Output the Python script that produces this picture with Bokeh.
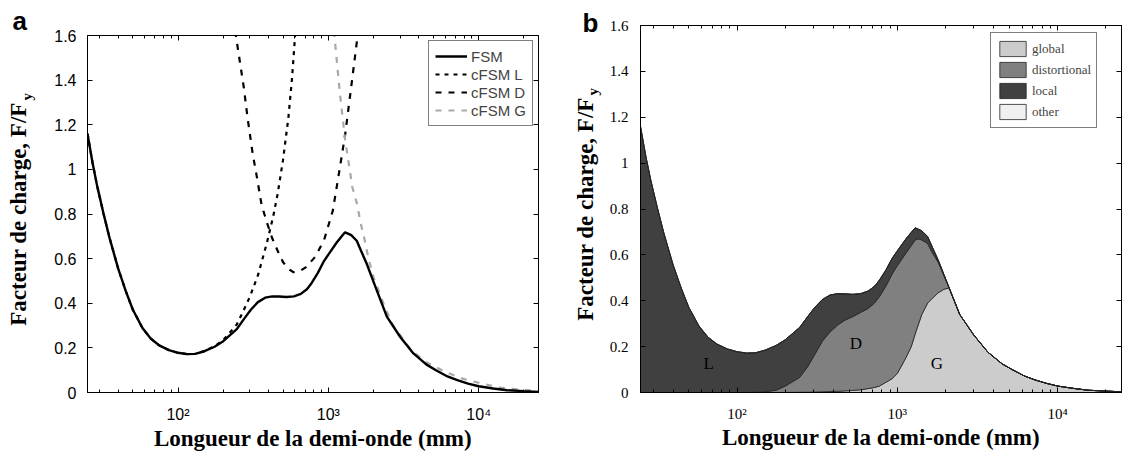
from bokeh.plotting import figure
from bokeh.layouts import row
from bokeh.models import (FixedTicker, LogAxis, LinearAxis, Legend, LegendItem,
                          Label, Title, CustomJSTickFormatter)
from bokeh.embed import file_html
from bokeh.resources import INLINE

# ---------------- data ----------------
half_wavelength = [25, 27, 29, 32, 35, 40, 45, 50, 58, 66, 75, 87, 100, 115, 130, 150,
                   175, 200, 246, 275, 306, 340, 380, 424, 470, 527, 590, 656, 720, 773,
                   850, 926, 1000, 1137, 1220, 1291, 1350, 1420, 1545, 1650, 1800, 1950,
                   2100, 2450, 3000, 3680, 4500, 5200, 6200, 7210, 8500, 10000, 12500,
                   15460, 20000, 25000]
fsm = [1.16, 1.03, 0.925, 0.80, 0.694, 0.555, 0.453, 0.372, 0.289, 0.241, 0.211, 0.19,
       0.178, 0.172, 0.173, 0.185, 0.205, 0.23, 0.284, 0.33, 0.372, 0.405, 0.425, 0.431,
       0.43, 0.428, 0.431, 0.442, 0.463, 0.49, 0.535, 0.584, 0.618, 0.672, 0.698, 0.718,
       0.712, 0.705, 0.68, 0.635, 0.577, 0.515, 0.458, 0.34, 0.25, 0.175, 0.125, 0.10,
       0.072, 0.055, 0.04, 0.028, 0.018, 0.01, 0.006, 0.003]

cfsm_L_x = [25, 27, 29, 32, 35, 40, 45, 50, 58, 66, 75, 87, 100, 115, 130, 150, 175, 200,
            246, 274, 301, 342, 390, 430, 460, 499, 542, 572, 604]
cfsm_L = [1.16, 1.03, 0.925, 0.80, 0.694, 0.555, 0.453, 0.372, 0.289, 0.241, 0.211, 0.19,
          0.178, 0.172, 0.173, 0.186, 0.207, 0.235, 0.305, 0.37, 0.43, 0.53, 0.67, 0.79,
          0.89, 1.04, 1.23, 1.40, 1.62]

cfsm_D_x = [240, 274, 290, 314, 332, 360, 391, 424, 460, 499, 540, 587, 650, 711, 815,
            934, 1071, 1194, 1295, 1445, 1580]
cfsm_D = [1.62, 1.367, 1.232, 1.069, 0.979, 0.84, 0.76, 0.69, 0.635, 0.585, 0.555, 0.539,
          0.545, 0.562, 0.607, 0.681, 0.815, 1.009, 1.158, 1.411, 1.62]

cfsm_G_x = [1090, 1194, 1295, 1445, 1545, 1640, 1750, 1850, 2000, 2180, 2380, 2700, 3100,
            3550, 4500, 6100, 8000, 10500, 14000, 18000, 25000]
cfsm_G = [1.62, 1.34, 1.13, 0.92, 0.85, 0.76, 0.68, 0.60, 0.515, 0.45, 0.38, 0.30, 0.245,
          0.19, 0.135, 0.09, 0.06, 0.04, 0.022, 0.014, 0.008]

# modal participation of the FSM curve (panel b), same half-wavelengths
global_part = [0, 0, 0, 0, 0, 0, 0, 0, 0, 0, 0, 0, 0, 0, 0, 0, 0, 0, 0.001, 0.001, 0.002,
               0.003, 0.004, 0.005, 0.007, 0.009, 0.012, 0.017, 0.022, 0.028, 0.045, 0.06,
               0.083, 0.155, 0.2, 0.255, 0.295, 0.34, 0.39, 0.41, 0.435, 0.45, 0.456,
               0.34, 0.25, 0.175, 0.125, 0.10, 0.072, 0.055, 0.04, 0.028, 0.018, 0.01,
               0.006, 0.003]
distortional_part = [0, 0, 0, 0, 0, 0, 0, 0, 0, 0, 0, 0, 0, 0, 0.001, 0.003, 0.01, 0.028,
                     0.065, 0.11, 0.165, 0.22, 0.26, 0.289, 0.308, 0.322, 0.337, 0.349,
                     0.368, 0.39, 0.42, 0.456, 0.47, 0.455, 0.44, 0.41, 0.375, 0.325, 0.26,
                     0.2, 0.132, 0.06, 0.001, 0, 0, 0, 0, 0, 0, 0, 0, 0, 0, 0, 0, 0]
local_part = [1.16, 1.03, 0.925, 0.80, 0.694, 0.555, 0.453, 0.372, 0.289, 0.241, 0.211,
              0.19, 0.178, 0.172, 0.172, 0.182, 0.195, 0.202, 0.218, 0.219, 0.205, 0.182,
              0.161, 0.137, 0.115, 0.097, 0.082, 0.076, 0.073, 0.072, 0.07, 0.068, 0.065,
              0.062, 0.058, 0.053, 0.042, 0.04, 0.03, 0.025, 0.01, 0.005, 0.001, 0, 0, 0,
              0, 0, 0, 0, 0, 0, 0, 0, 0, 0]
other_part = [0.0 for _ in half_wavelength]

x_major = [100, 1000, 10000]
x_tick_labels = ["10²", "10³", "10⁴"]
x_minor = [30, 40, 50, 60, 70, 80, 90, 200, 300, 400, 500, 600, 700, 800, 900,
           2000, 3000, 4000, 5000, 6000, 7000, 8000, 9000, 20000]
y_ticks = [0, 0.2, 0.4, 0.6, 0.8, 1.0, 1.2, 1.4, 1.6]
y_tick_labels = ["0", "0.2", "0.4", "0.6", "0.8", "1", "1.2", "1.4", "1.6"]

XLABEL = "Longueur de la demi-onde (mm)"
YLABEL = "Facteur de charge, F/F"

SANS = "Liberation Sans"
SERIF = "Liberation Serif"


def style_axes(p, tick_font, tick_size, ylabel_std, tick_std_y, sub_offset):
    p.xaxis.ticker = FixedTicker(ticks=x_major, minor_ticks=x_minor)
    p.yaxis.ticker = FixedTicker(ticks=y_ticks)
    p.xaxis.major_label_overrides = dict(zip(x_major, x_tick_labels))
    p.yaxis.major_label_overrides = dict(zip(y_ticks, y_tick_labels))
    for ax in (p.xaxis[0], p.yaxis[0]):
        ax.major_tick_in = 5
        ax.major_tick_out = 0
        ax.minor_tick_in = 3
        ax.minor_tick_out = 0
        ax.axis_line_color = "black"
        ax.major_tick_line_color = "black"
        ax.minor_tick_line_color = "black"
        ax.major_label_text_font = tick_font
        ax.major_label_text_font_size = tick_size
        ax.major_label_text_color = "black"
        ax.axis_label_text_font = SERIF
        ax.axis_label_text_font_style = "bold"
        ax.axis_label_text_font_size = "23px"
        ax.axis_label_text_color = "black"
    p.xaxis.major_label_standoff = 13
    p.yaxis.major_label_standoff = tick_std_y
    p.xaxis.axis_label = XLABEL
    p.yaxis.axis_label = YLABEL
    p.xaxis.axis_label_standoff = 0
    p.yaxis.axis_label_standoff = ylabel_std
    p.yaxis.minor_tick_line_color = None
    blank = CustomJSTickFormatter(code="return '';")
    top = LogAxis(ticker=FixedTicker(ticks=x_major, minor_ticks=x_minor), formatter=blank,
                  major_tick_in=5, major_tick_out=0, minor_tick_in=3, minor_tick_out=0,
                  major_label_standoff=0, major_label_text_font_size="1px",
                  axis_line_color="black")
    right = LinearAxis(ticker=FixedTicker(ticks=y_ticks), formatter=blank,
                       major_tick_in=5, major_tick_out=0, minor_tick_line_color=None,
                       major_label_standoff=0, major_label_text_font_size="1px",
                       axis_line_color="black")
    p.add_layout(top, "above")
    p.add_layout(right, "right")
    # subscript of the y label
    sub = Title(text="y", align="left", offset=sub_offset, vertical_align="bottom",
                standoff=-62, text_font=SERIF, text_font_style="bold",
                text_font_size="15px", text_color="black")
    p.add_layout(sub, "left")
    p.xgrid.visible = False
    p.ygrid.visible = False
    p.outline_line_color = "black"
    p.background_fill_color = "white"
    p.border_fill_color = "white"


# ---------------- panel a ----------------
pa = figure(width=568, height=459, x_axis_type="log", x_range=(25, 25000), y_range=(0, 1.6),
            output_backend="svg", toolbar_location=None, frame_align=False,
            min_border_left=87, min_border_right=30, min_border_top=35, min_border_bottom=67)
style_axes(pa, SANS, "16px", 20, 11, 292)

rL = pa.line(cfsm_L_x, cfsm_L, line_color="black", line_width=2.2, line_dash="4 5")
rD = pa.line(cfsm_D_x, cfsm_D, line_color="black", line_width=2.2, line_dash="6 7")
rG = pa.line(cfsm_G_x, cfsm_G, line_color="#a8a8a8", line_width=2.2, line_dash="6 7")
rF = pa.line(half_wavelength, fsm, line_color="black", line_width=2.4)

leg_a = Legend(items=[LegendItem(label="FSM", renderers=[rF]),
                      LegendItem(label="cFSM L", renderers=[rL]),
                      LegendItem(label="cFSM D", renderers=[rD]),
                      LegendItem(label="cFSM G", renderers=[rG])],
               location="top_right", margin=5, padding=6, spacing=0,
               glyph_width=32, glyph_height=18, label_height=18, label_standoff=4,
               label_text_font=SANS, label_text_font_size="15px",
               border_line_color="black", border_line_width=1,
               background_fill_alpha=1)
pa.add_layout(leg_a)
pa.add_layout(Title(text="a", align="left", offset=-75, vertical_align="bottom", standoff=0,
                    text_font=SANS, text_font_style="bold", text_font_size="26px",
                    text_color="black"), "above")

# ---------------- panel b ----------------
pb = figure(width=556, height=459, x_axis_type="log", x_range=(25, 25000), y_range=(0, 1.6),
            output_backend="svg", toolbar_location=None, frame_align=False,
            min_border_left=72, min_border_right=3, min_border_top=25, min_border_bottom=67)
style_axes(pb, SERIF, "15px", 9, 12, 297)

xs = list(half_wavelength)
lvl0 = [0.0 for _ in xs]
lvl1 = [a + b for a, b in zip(lvl0, global_part)]
lvl2 = [a + b for a, b in zip(lvl1, distortional_part)]
lvl3 = [a + b for a, b in zip(lvl2, local_part)]
lvl4 = [a + b for a, b in zip(lvl3, other_part)]


def band(lower, upper):
    return xs + xs[::-1], upper + lower[::-1]


layers = [("global", lvl0, lvl1, "#cccccc"),
          ("distortional", lvl1, lvl2, "#808080"),
          ("local", lvl2, lvl3, "#404040"),
          ("other", lvl3, lvl4, "#f0f0f0")]
rends = {}
for name, lo, hi, col in layers:
    bx, by = band(lo, hi)
    rends[name] = pb.patch(bx, by, fill_color=col, line_color="#222222", line_width=0.8)

leg_b = Legend(items=[LegendItem(label=n, renderers=[rends[n]])
                      for n in ["global", "distortional", "local", "other"]],
               location=(350, 264), margin=0, padding=5, spacing=0,
               glyph_width=33, glyph_height=19, label_height=21, label_standoff=3,
               label_text_font=SERIF, label_text_font_size="13px",
               border_line_color="black", border_line_width=1,
               background_fill_alpha=1)
pb.add_layout(leg_b)

for txt, xv, yv in [("L", 66.5, 0.126), ("D", 551, 0.214), ("G", 1763, 0.126)]:
    pb.add_layout(Label(x=xv, y=yv, text=txt, text_font=SERIF, text_font_size="17px",
                        text_color="black", text_align="center", text_baseline="middle"))

pb.add_layout(Title(text="b", align="left", offset=-58, vertical_align="bottom", standoff=-24,
                    text_font=SANS, text_font_style="bold", text_font_size="26px",
                    text_color="black"), "above")

layout = row(pa, pb)
open("out.html", "w").write(file_html(layout, INLINE))
